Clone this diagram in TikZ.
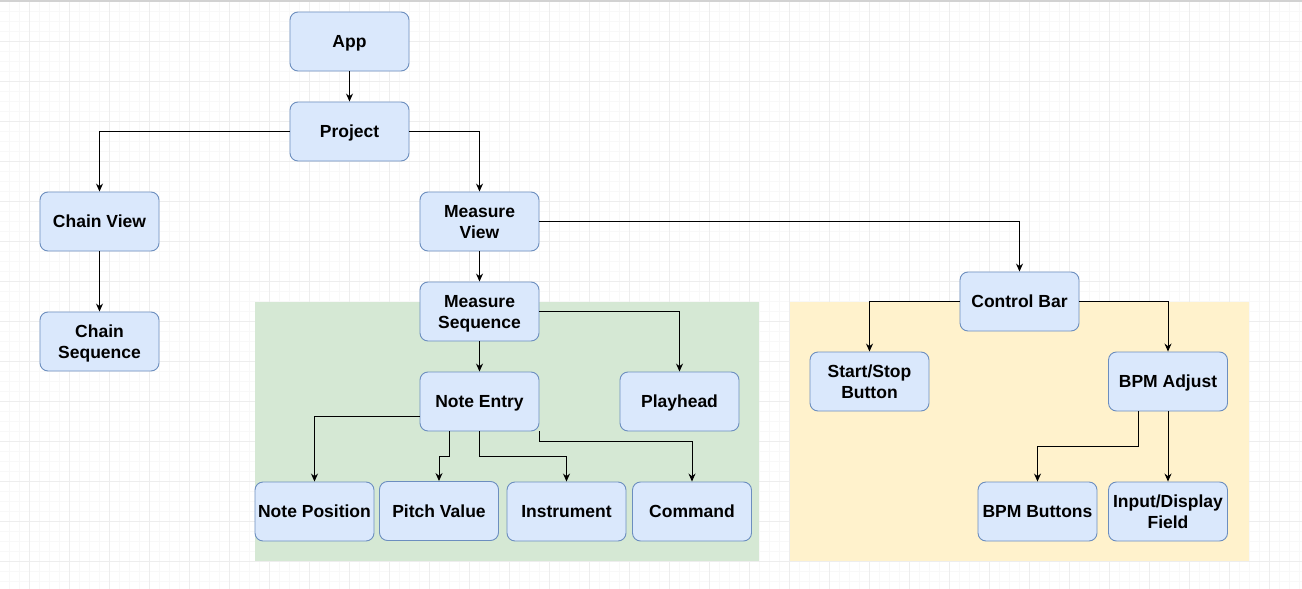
\documentclass[tikz,border=0pt]{standalone}
\usepackage{fontspec}
\setmainfont{Liberation Sans}
\usetikzlibrary{positioning,arrows.meta}

\definecolor{boxfill}{HTML}{DAE8FC}
\definecolor{boxline}{HTML}{6C8EBF}
\definecolor{grpgreen}{HTML}{D5E8D4}
\definecolor{grpyellow}{HTML}{FFF2CC}
\definecolor{gridmajor}{HTML}{EDEDED}
\definecolor{gridminor}{HTML}{F8F8F8}

\begin{document}
\begin{tikzpicture}[x=1pt,y=-1pt,
  comp/.style={shape=rectangle, rounded corners=8pt, draw=boxline, fill=boxfill, line width=0.9pt,
    minimum width=119pt, minimum height=59pt, inner sep=1pt, align=center, text depth=0pt,
    font=\fontsize{17.5}{21}\selectfont\bfseries},
  link/.style={-{Stealth[length=8pt,width=7pt]}, line width=1pt}
]
  \useasboundingbox (0,0) rectangle (1302,589);

  % Background grid
  \begin{scope}[y=1pt, shift={(29,-41)}]
    \draw[gridminor, line width=0.6pt, step=10] (-29,-548) grid (1273,41);
    \draw[gridmajor, line width=1pt, step=40] (-29,-548) grid (1273,41);
  \end{scope}
  \draw[gray!35, line width=1.5pt] (0,0.75) -- (1302,0.75);

  % Groups
  \fill[grpgreen] (255,302) rectangle (759,561);
  \fill[grpyellow] (790,302) rectangle (1249,561);

  % Root
  \node[comp] (app) at (349.5,41.5) {App};
  \node[comp] (proj) at (349.5,131.5) {Project};

  % Chain side
  \node[comp] (cview) at (99.5,221.5) {Chain View};
  \node[comp] (cseq) at (99.5,341.5) {Chain\\Sequence};

  % Measure side
  \node[comp] (mview) at (479.5,221.5) {Measure\\View};
  \node[comp] (mseq) at (479.5,311.5) {Measure\\Sequence};
  \node[comp] (nentry) at (479.5,401.5) {Note Entry};
  \node[comp] (phead) at (679.5,401.5) {Playhead};
  \node[comp] (npos) at (314.5,511.5) {Note Position};
  \node[comp] (pitch) at (439,511) {Pitch Value};
  \node[comp] (instr) at (566.5,511.5) {Instrument};
  \node[comp] (cmd) at (692,511.5) {Command};

  % Controls
  \node[comp] (cbar) at (1019.5,301.5) {Control Bar};
  \node[comp] (sstop) at (869.5,381.5) {Start/Stop\\Button};
  \node[comp] (bpmadj) at (1168,381.5) {BPM Adjust};
  \node[comp] (bpmbtn) at (1037.5,511.5) {BPM Buttons};
  \node[comp] (field) at (1168,511.5) {Input/Display\\Field};

  % Links
  \draw[link] (app) -- (proj);
  \draw[link] (proj.west) -| (cview.north);
  \draw[link] (proj.east) -| (mview.north);
  \draw[link] (cview) -- (cseq);
  \draw[link] (mview) -- (mseq);
  \draw[link] (mview.east) -| (cbar.north);
  \draw[link] (mseq) -- (nentry);
  \draw[link] (mseq.east) -| (phead.north);
  \draw[link] ([yshift=-15pt]nentry.west) -| (npos.north);
  \draw[link] ([xshift=-30pt]nentry.south) -- ++(0,25.5) -| (pitch.north);
  \draw[link] (nentry.south) -- ++(0,25.5) -| (instr.north);
  \draw[link] (nentry.south east) -- ++(0,10) -| (cmd.north);
  \draw[link] (cbar.west) -| (sstop.north);
  \draw[link] (cbar.east) -| (bpmadj.north);
  \draw[link] ([xshift=-29.5pt]bpmadj.south) -- ++(0,35) -| (bpmbtn.north);
  \draw[link] (bpmadj) -- (field);
\end{tikzpicture}
\end{document}
